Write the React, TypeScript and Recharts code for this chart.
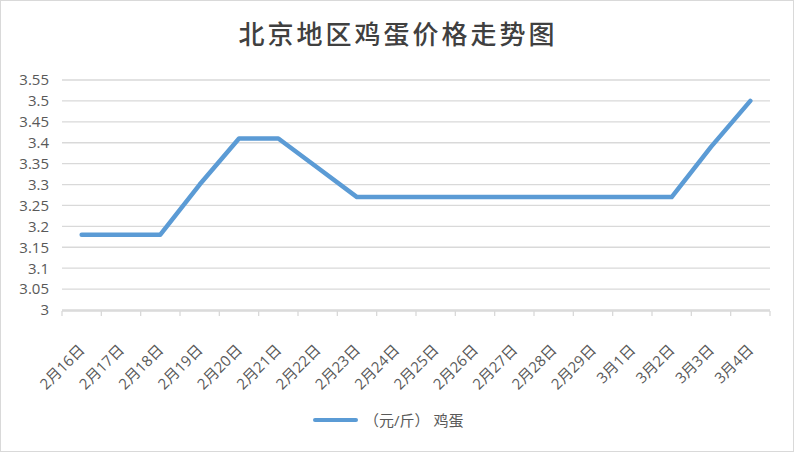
import React from 'react';
import { LineChart, Line, XAxis, YAxis, CartesianGrid } from 'recharts';

const dates = [
  '2月16日', '2月17日', '2月18日', '2月19日', '2月20日', '2月21日',
  '2月22日', '2月23日', '2月24日', '2月25日', '2月26日', '2月27日',
  '2月28日', '2月29日', '3月1日', '3月2日', '3月3日', '3月4日',
];
const eggPrices = [
  3.18, 3.18, 3.18, 3.3, 3.41, 3.41, 3.34, 3.27, 3.27, 3.27, 3.27, 3.27,
  3.27, 3.27, 3.27, 3.27, 3.39, 3.5,
];
const yTicks = [3, 3.05, 3.1, 3.15, 3.2, 3.25, 3.3, 3.35, 3.4, 3.45, 3.5, 3.55];
const boundaryTicks = [0, 1, 2, 3, 4, 5, 6, 7, 8, 9, 10, 11, 12, 13, 14, 15, 16, 17, 18];

const W = 794;
const H = 452;
const LINE_COLOR = '#5b9bd5';
const TEXT_COLOR = '#595959';
const GRID_COLOR = '#d9d9d9';
const FONT = '"Open Sans", "Noto Sans CJK SC", sans-serif';

const data = dates.map((d, i) => ({ date: d, price: eggPrices[i], idx: i + 0.5 }));

// rotated category labels, end of text sits just right of the category centre
const DateTick = ({ x, y, payload }: any) => (
  <text
    x={x + 4}
    y={y + 33}
    transform={`rotate(-45, ${x + 4}, ${y + 33})`}
    textAnchor="end"
    fill={TEXT_COLOR}
    fontSize={15}
    fontFamily={FONT}
  >
    {payload.value}
  </text>
);

const fmt = (v: number) => String(Number(v.toFixed(2)));

export default function App() {
  return (
    <div
      style={{
        position: 'absolute',
        left: 0,
        top: 0,
        width: W,
        height: H,
        boxSizing: 'border-box',
        border: '1px solid #d9d9d9',
        background: '#fff',
        overflow: 'hidden',
      }}
    >
      <div
        style={{
          position: 'absolute',
          left: 0,
          width: W,
          top: 15,
          textAlign: 'center',
          fontFamily: '"Noto Sans CJK SC", sans-serif',
          fontSize: 26,
          fontWeight: 500,
          letterSpacing: 3,
          color: '#404040',
          lineHeight: '34px',
        }}
      >
        北京地区鸡蛋价格走势图
      </div>

      <div style={{ position: 'absolute', left: -1, top: -1 }}>
        <LineChart
          width={W}
          height={H}
          data={data}
          margin={{ top: 80, right: 24, left: 0, bottom: 0 }}
        >
          <CartesianGrid vertical={false} stroke={GRID_COLOR} strokeWidth={1.3} />
          <XAxis
            xAxisId="dates"
            dataKey="date"
            scale="band"
            interval={0}
            height={1}
            axisLine={false}
            tickLine={false}
            tick={<DateTick />}
          />
          {/* boundary tick marks between categories, Excel style */}
          <XAxis
            xAxisId="ticks"
            type="number"
            dataKey="idx"
            domain={[0, 18]}
            ticks={boundaryTicks}
            interval={0}
            allowDataOverflow
            tickFormatter={() => ''}
            tickSize={5}
            height={141}
            axisLine={{ stroke: GRID_COLOR, strokeWidth: 1.3 }}
            tickLine={{ stroke: GRID_COLOR, strokeWidth: 1.3 }}
          />
          <YAxis
            width={62}
            domain={[3, 3.55]}
            ticks={yTicks}
            interval={0}
            axisLine={false}
            tickLine={false}
            tickSize={0}
            tickMargin={13}
            tickFormatter={fmt}
            tick={{ fill: TEXT_COLOR, fontSize: 15, fontFamily: FONT }}
          />
          <Line
            xAxisId="dates"
            dataKey="price"
            stroke={LINE_COLOR}
            strokeWidth={4.5}
            dot={false}
            strokeLinejoin="round"
            strokeLinecap="round"
            isAnimationActive={false}
          />
        </LineChart>
      </div>

      <div
        style={{
          position: 'absolute',
          left: 312,
          top: 408,
          display: 'flex',
          alignItems: 'center',
          fontFamily: FONT,
          fontSize: 15,
          color: TEXT_COLOR,
        }}
      >
        <span
          style={{
            display: 'inline-block',
            width: 45,
            height: 4,
            borderRadius: 2,
            background: LINE_COLOR,
            marginRight: 6,
          }}
        />
        <span>（元/斤） 鸡蛋</span>
      </div>
    </div>
  );
}
